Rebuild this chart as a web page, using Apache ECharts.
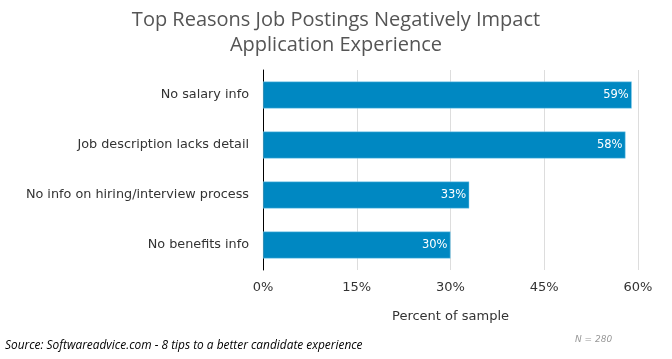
<!DOCTYPE html>
<html><head><meta charset="utf-8">
<script src="https://cdn.jsdelivr.net/npm/echarts@6/dist/echarts.min.js"></script>
<style>html,body{margin:0;padding:0;background:#fff}#c{width:672px;height:359px}</style>
</head><body><div id="c"></div>
<script>
const categories = ["No salary info", "Job description lacks detail", "No info on hiring/interview process", "No benefits info"];
const values = [59, 58, 33, 30];
const tickValues = [0, 15, 30, 45, 60];
const titleText = "Top Reasons Job Postings Negatively Impact\nApplication Experience";
const axisName = "Percent of sample";
const sourceText = "Source: Softwareadvice.com - 8 tips to a better candidate experience";
const noteText = "N = 280";

const chart = echarts.init(document.getElementById('c'));
chart.setOption({
  animation: false,
  title: {
    text: titleText, left: 'center', top: 3,
    textStyle: {fontFamily: 'Open Sans', fontSize: 20, fontWeight: 'normal', color: '#555', lineHeight: 25}
  },
  grid: {left: 263, right: 34, top: 70, bottom: 89},
  xAxis: {
    type: 'value', min: tickValues[0], max: tickValues[tickValues.length - 1], interval: 15,
    axisLabel: {formatter: '{value}%', fontFamily: 'DejaVu Sans', fontSize: 13, color: '#333', margin: 11},
    splitLine: {lineStyle: {color: '#ddd'}},
    axisLine: {show: false}, axisTick: {show: false},
    name: axisName, nameLocation: 'middle', nameGap: 40,
    nameTextStyle: {fontFamily: 'DejaVu Sans', fontSize: 13, color: '#333'}
  },
  yAxis: {
    type: 'category', data: categories, inverse: true,
    axisLine: {show: true, lineStyle: {color: '#000'}},
    axisTick: {show: false},
    axisLabel: {fontFamily: 'DejaVu Sans', fontSize: 12.8, color: '#333', margin: 14, lineHeight: 20, padding: [6, 0, 0, 0]}
  },
  series: [{
    type: 'bar', data: values, barCategoryGap: '46%',
    itemStyle: {color: '#0088c2', borderColor: '#8fd3f0', borderWidth: 0.5},
    label: {show: true, position: 'insideRight', formatter: '{c}%', color: '#fff',
      fontFamily: 'DejaVu Sans', fontSize: 11.5, offset: [2, 0]}
  }],
  graphic: [
    {type: 'text', left: 5, top: 340, style: {text: sourceText, fontFamily: 'Open Sans', fontStyle: 'italic', fontSize: 11.9, fill: '#000'}},
    {type: 'text', left: 575, top: 335, style: {text: noteText, fontFamily: 'DejaVu Sans', fontStyle: 'italic', fontSize: 9, fill: '#999'}}
  ]
});
</script></body></html>
